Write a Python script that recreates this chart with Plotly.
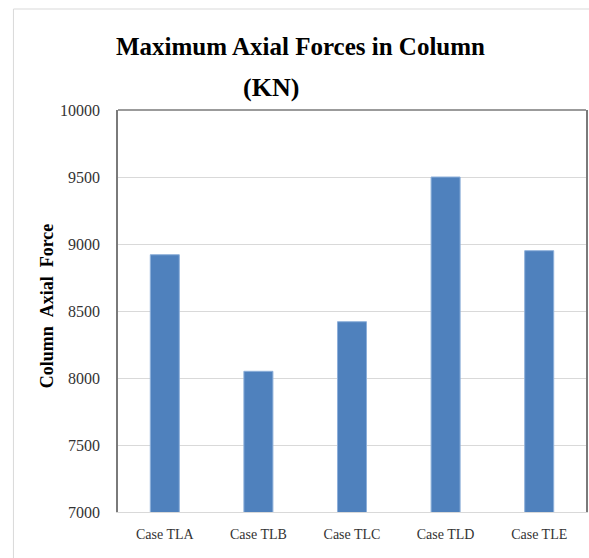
import plotly.graph_objects as go

categories = ["Case TLA", "Case TLB", "Case TLC", "Case TLD", "Case TLE"]
axial_force = [8920, 8050, 8420, 9500, 8950]
y_ticks = [7000, 7500, 8000, 8500, 9000, 9500, 10000]
y_tick_text = ["7000", "7500", "8000", "8500", "9000", "9500", "10000"]

W, H = 589, 558
L, R, T, B = 118, 1, 110, 46
pw = W - L - R
ph = H - T - B


def px_y(y):
    return (H - B - y) / ph


def px_x(x):
    return (x - L) / pw


fig = go.Figure(go.Bar(
    x=categories, y=axial_force,
    marker=dict(color="#4f81bd", line=dict(color="#8eb0da", width=1)),
))

serif = "Liberation Serif, Times New Roman, serif"

fig.update_layout(
    width=W, height=H,
    margin=dict(l=L, r=R, t=T, b=B),
    paper_bgcolor="white", plot_bgcolor="white",
    bargap=0.69,
    showlegend=False,
    font=dict(family=serif, size=14, color="#333333"),
)

fig.update_xaxes(
    showline=True, linecolor="#d9d9d9", linewidth=1,
    ticks="", ticklabelstandoff=9,
    tickfont=dict(family=serif, size=14, color="#333333"),
)
fig.update_yaxes(
    range=[7000, 10000], tickvals=y_ticks, ticktext=y_tick_text,
    showgrid=True, gridcolor="#d9d9d9", gridwidth=1,
    showline=True, linecolor="#7a7a7a", linewidth=1.5, mirror=True,
    ticks="", ticklabelstandoff=13,
    tickfont=dict(family=serif, size=16, color="#333333"),
    zeroline=False,
)

# top frame line of plot area
fig.add_shape(type="line", xref="paper", yref="paper", x0=0, x1=1, y0=1, y1=1,
              line=dict(color="#7a7a7a", width=1.5))
# outer chart border
fig.add_shape(type="rect", xref="paper", yref="paper",
              x0=px_x(13), x1=px_x(W + 5), y0=px_y(H + 5), y1=px_y(9),
              line=dict(color="#d9d9d9", width=1), layer="below")

# title (two lines)
fig.add_annotation(
    text="<b>Maximum Axial Forces in Column</b>",
    xref="paper", yref="paper", x=px_x(301), y=px_y(46),
    xanchor="center", yanchor="middle", showarrow=False,
    font=dict(family=serif, size=25, color="black"),
)
fig.add_annotation(
    text="<b>(KN)</b>",
    xref="paper", yref="paper", x=px_x(272), y=px_y(88),
    xanchor="center", yanchor="middle", showarrow=False,
    font=dict(family=serif, size=26, color="black"),
)

fig.add_annotation(
    text="<b>Column&nbsp;&nbsp;Axial&nbsp;&nbsp;Force</b>", textangle=-90,
    xref="paper", yref="paper", x=px_x(47), y=px_y(306),
    xanchor="center", yanchor="middle", showarrow=False,
    font=dict(family=serif, size=18, color="black"),
)

fig.write_html("out.html", config={"displayModeBar": False},
               post_script="document.body.style.margin='0px';")
